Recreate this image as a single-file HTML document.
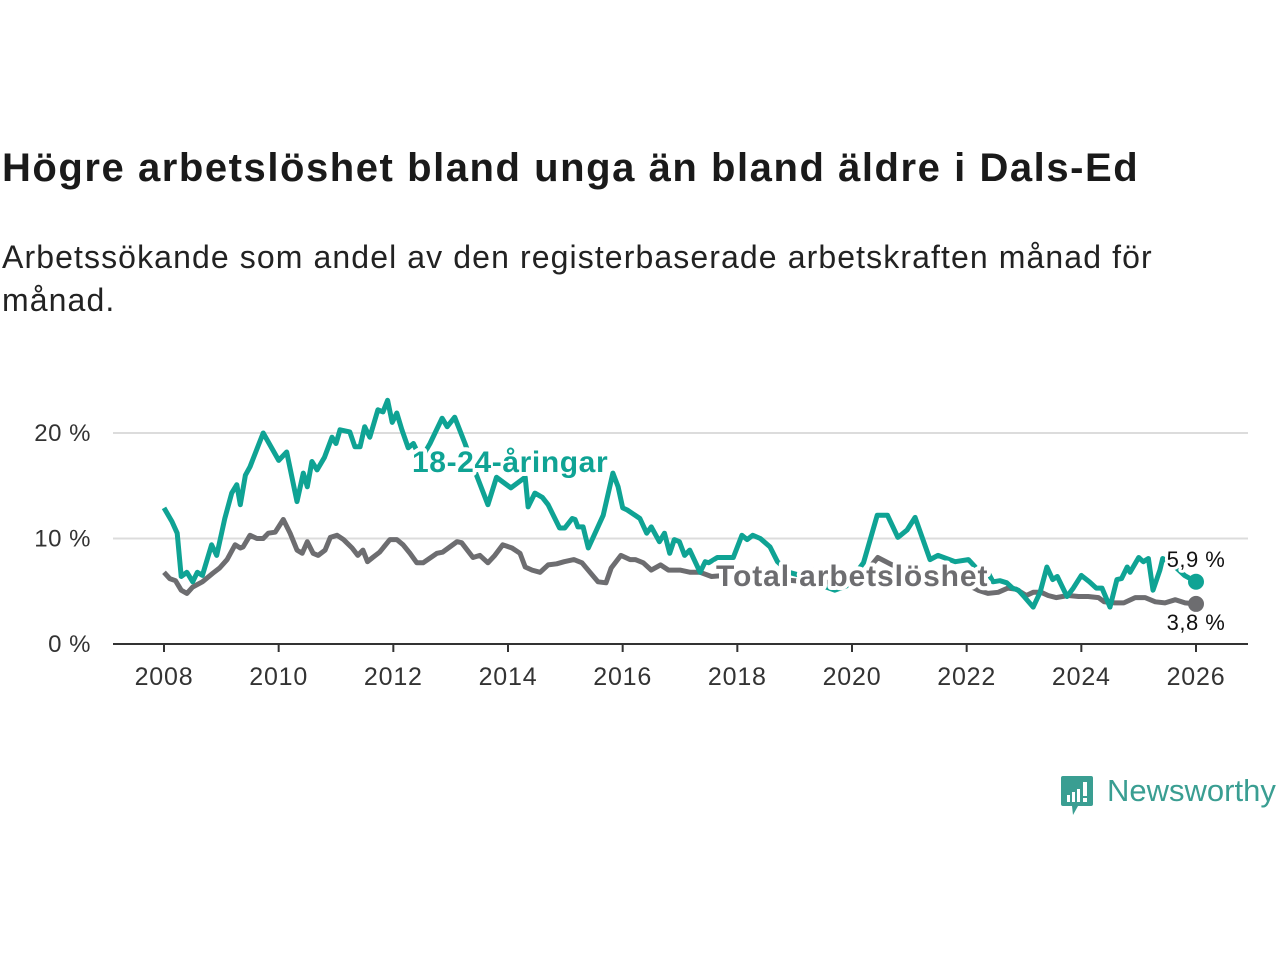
<!DOCTYPE html>
<html><head><meta charset="utf-8">
<style>
body{margin:0;background:#fff;width:1280px;height:960px;overflow:hidden;font-family:"Liberation Sans",sans-serif;}
h1{position:absolute;left:2px;top:146px;margin:0;font-size:40px;font-weight:bold;color:#1a1a1a;letter-spacing:1.55px;white-space:nowrap}
.sub{position:absolute;left:2px;top:236px;margin:0;font-size:32px;line-height:43px;color:#222;width:1185px;letter-spacing:1.1px}
svg{position:absolute;left:0;top:0}
</style></head><body>
<h1>Högre arbetslöshet bland unga än bland äldre i Dals-Ed</h1>
<p class="sub">Arbetssökande som andel av den registerbaserade arbetskraften månad för månad.</p>
<svg id="chart" width="1280" height="960"></svg>
<script>
const youthDates=[2008.0,2008.14,2008.23,2008.3,2008.4,2008.5,2008.58,2008.67,2008.83,2008.92,2009.06,2009.18,2009.27,2009.33,2009.42,2009.5,2009.73,2010.0,2010.14,2010.32,2010.43,2010.5,2010.58,2010.67,2010.8,2010.93,2011.0,2011.07,2011.24,2011.33,2011.42,2011.5,2011.59,2011.73,2011.82,2011.9,2011.98,2012.06,2012.15,2012.26,2012.35,2012.48,2012.64,2012.85,2012.94,2013.07,2013.25,2013.45,2013.65,2013.8,2014.05,2014.3,2014.35,2014.47,2014.6,2014.7,2014.9,2014.99,2015.12,2015.17,2015.22,2015.31,2015.4,2015.66,2015.83,2015.92,2016.0,2016.08,2016.3,2016.42,2016.5,2016.64,2016.73,2016.82,2016.9,2016.99,2017.08,2017.17,2017.35,2017.44,2017.5,2017.65,2017.82,2017.93,2018.08,2018.17,2018.27,2018.4,2018.57,2018.7,2018.9,2019.1,2019.3,2019.5,2019.7,2019.9,2020.2,2020.44,2020.62,2020.8,2020.96,2021.1,2021.36,2021.5,2021.8,2022.03,2022.2,2022.37,2022.46,2022.58,2022.7,2022.8,2022.9,2023.0,2023.16,2023.28,2023.4,2023.5,2023.58,2023.75,2023.86,2024.0,2024.14,2024.26,2024.36,2024.5,2024.62,2024.7,2024.8,2024.85,2025.0,2025.08,2025.17,2025.25,2025.37,2025.42,2025.6,2025.8,2026.0];
const youthValues=[12.9,11.6,10.5,6.4,6.8,5.9,6.8,6.5,9.4,8.4,11.9,14.3,15.1,13.2,16.0,16.8,20.0,17.4,18.2,13.5,16.2,14.9,17.3,16.5,17.7,19.6,19.0,20.3,20.1,18.7,18.7,20.6,19.6,22.2,22.0,23.1,21.0,21.9,20.3,18.6,19.0,17.5,19.0,21.4,20.6,21.5,19.0,16.0,13.2,15.8,14.8,15.8,13.0,14.3,13.9,13.2,11.0,11.0,11.9,11.8,11.1,11.1,9.1,12.2,16.2,14.9,12.9,12.7,11.9,10.5,11.1,9.7,10.5,8.6,9.9,9.7,8.4,8.9,6.8,7.8,7.7,8.2,8.2,8.2,10.3,9.9,10.3,10.0,9.2,7.8,6.8,6.5,7.0,5.5,5.1,5.5,7.7,12.2,12.2,10.1,10.8,12.0,8.0,8.4,7.8,8.0,7.0,6.8,5.9,6.0,5.8,5.3,5.1,4.5,3.5,4.9,7.3,6.1,6.4,4.5,5.3,6.5,5.9,5.3,5.3,3.5,6.1,6.2,7.3,6.8,8.2,7.8,8.1,5.1,7.0,8.1,7.5,6.5,5.9];
const totalDates=[2008.0,2008.1,2008.2,2008.3,2008.4,2008.5,2008.67,2008.85,2008.97,2009.1,2009.24,2009.33,2009.38,2009.5,2009.62,2009.73,2009.82,2009.94,2010.08,2010.2,2010.32,2010.41,2010.5,2010.6,2010.69,2010.81,2010.9,2011.02,2011.13,2011.28,2011.38,2011.47,2011.55,2011.64,2011.76,2011.94,2012.06,2012.17,2012.29,2012.41,2012.52,2012.76,2012.86,2013.11,2013.19,2013.39,2013.51,2013.65,2013.77,2013.91,2014.07,2014.21,2014.3,2014.42,2014.56,2014.7,2014.85,2014.98,2015.15,2015.29,2015.43,2015.57,2015.71,2015.8,2015.97,2016.13,2016.22,2016.36,2016.5,2016.66,2016.8,2017.0,2017.18,2017.35,2017.55,2017.8,2018.2,2018.6,2019.0,2019.4,2019.8,2020.1,2020.3,2020.45,2020.7,2021.0,2021.4,2021.8,2022.2,2022.37,2022.55,2022.72,2022.86,2023.04,2023.16,2023.3,2023.42,2023.56,2023.77,2023.95,2024.12,2024.3,2024.4,2024.58,2024.74,2024.94,2025.11,2025.29,2025.46,2025.64,2025.81,2026.0];
const totalValues=[6.8,6.2,6.0,5.1,4.8,5.4,5.9,6.7,7.2,8.0,9.4,9.1,9.2,10.3,10.0,10.0,10.5,10.6,11.8,10.5,8.9,8.6,9.7,8.6,8.4,8.9,10.1,10.3,9.9,9.1,8.4,8.9,7.8,8.2,8.7,9.9,9.9,9.4,8.6,7.7,7.7,8.6,8.7,9.7,9.6,8.2,8.4,7.7,8.4,9.4,9.1,8.6,7.3,7.0,6.8,7.5,7.6,7.8,8.0,7.7,6.8,5.9,5.8,7.2,8.4,8.0,8.0,7.7,7.0,7.5,7.0,7.0,6.8,6.8,6.4,6.5,6.4,6.2,6.0,5.8,5.9,6.2,7.2,8.2,7.5,7.0,6.6,6.2,5.1,4.8,4.9,5.3,5.2,4.6,4.9,4.9,4.6,4.4,4.6,4.5,4.5,4.4,4.0,3.9,3.9,4.4,4.4,4.0,3.9,4.2,3.9,3.8];
const yTicks=[0,10,20];
const yTickLabels=["0 %","10 %","20 %"];
const xTicks=[2008,2010,2012,2014,2016,2018,2020,2022,2024,2026];

const NS="http://www.w3.org/2000/svg";
const svg=document.getElementById('chart');
const x=v=>164+(v-2008)*(1196-164)/18;
const y=v=>644-v*10.55;
function mk(t,a,p){const e=document.createElementNS(NS,t);for(const k in a)e.setAttribute(k,a[k]);(p||svg).appendChild(e);return e;}

yTicks.forEach((t,i)=>{
  if(t>0){const g=mk('line',{x1:113,x2:1248,y1:y(t),y2:y(t),stroke:'#dcdcdc','stroke-width':2});
  
  }
  const l=mk('text',{x:91,y:y(t)+8,'text-anchor':'end','font-size':24,fill:'#333','letter-spacing':0.5});
  l.textContent=yTickLabels[i];
  
  
});
const ax=mk('line',{x1:113,x2:1248,y1:644,y2:644,stroke:'#333','stroke-width':2});


xTicks.forEach(t=>{
  const tk=mk('line',{x1:x(t),x2:x(t),y1:644,y2:652,stroke:'#333','stroke-width':2});
  
  
  const l=mk('text',{x:x(t),y:685,'text-anchor':'middle','font-size':25,fill:'#333','letter-spacing':0.8});
  l.textContent=t;
  
  
});
function line(d,v,c,name){
  const p=mk('path',{d:d.map((t,i)=>(i?'L':'M')+x(t).toFixed(1)+','+y(v[i]).toFixed(1)).join(''),fill:'none',stroke:c,'stroke-width':5,'stroke-linejoin':'round'});
  
  
}
line(totalDates,totalValues,'#6d6d70','total-line');
line(youthDates,youthValues,'#0fa394','youth-line');
function lab(tx,px,py,c,size,bold,name,anchor,ls){
  const t=mk('text',{x:px,y:py,fill:c,'font-size':size,'font-weight':bold?'bold':'normal',stroke:'#fff','stroke-width':bold?8:6,'paint-order':'stroke','stroke-linejoin':'round','text-anchor':anchor||'start','letter-spacing':ls||0});
  t.textContent=tx;
  
  
}
lab('18-24-åringar',412,472,'#0fa394',30,true,'youth-series-label',null,0.6);
lab('Total arbetslöshet',716,586,'#6d6d70',30,true,'total-series-label',null,0.9);
const lastY=youthValues[youthValues.length-1], lastT=totalValues[totalValues.length-1];
lab(String(lastY).replace('.',',')+' %',1196,567,'#111',22,false,'youth-end-value','middle',0.5);
lab(String(lastT).replace('.',',')+' %',1196,630,'#111',22,false,'total-end-value','middle',0.5);
const d1=mk('circle',{cx:x(2026),cy:y(lastY),r:8,fill:'#0fa394'});


const d2=mk('circle',{cx:x(2026),cy:y(lastT),r:8,fill:'#6d6d70'});


</script>
<div style="position:absolute;left:1060px;top:774px;height:44px;width:220px">
<svg width="36" height="44" style="position:absolute;left:0;top:0">
<path d="M3 2H31Q33 2 33 4V30Q33 32 31 32H18L13 41L12 32H3Q1 32 1 30V4Q1 2 3 2Z" fill="#3a9e92"/>
<rect x="7" y="21" width="3" height="7" fill="#fff"/><rect x="12" y="18" width="3" height="10" fill="#fff"/><rect x="17" y="15" width="3" height="13" fill="#fff"/><rect x="23" y="8" width="4" height="14" fill="#fff"/><rect x="23" y="24" width="4" height="4" fill="#fff"/>
</svg>
<span style="position:absolute;left:47px;top:-1px;font-size:31px;color:#3a9e92;font-family:'Liberation Sans',sans-serif">Newsworthy</span>
</div>
</body></html>
